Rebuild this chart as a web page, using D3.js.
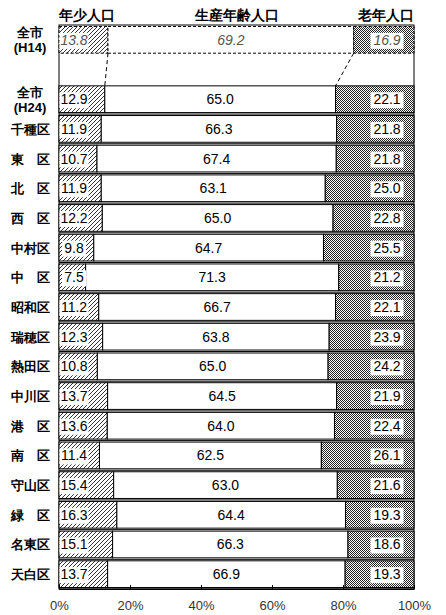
<!DOCTYPE html><html><head><meta charset="utf-8"><script src="https://cdn.jsdelivr.net/npm/d3@7"></script>
<style>body{margin:0;background:#fff}text{font-family:"Liberation Sans",Arial,sans-serif}</style></head><body><svg id="c" width="446" height="615"></svg>
<script>
const categories=["全市\n(H14)","","全市\n(H24)","千種区","東　区","北　区","西　区","中村区","中　区","昭和区","瑞穂区","熱田区","中川区","港　区","南　区","守山区","緑　区","名東区","天白区"];
const young=[13.8,null,12.9,11.9,10.7,11.9,12.2,9.8,7.5,11.2,12.3,10.8,13.7,13.6,11.4,15.4,16.3,15.1,13.7];
const working=[69.2,null,65.0,66.3,67.4,63.1,65.0,64.7,71.3,66.7,63.8,65.0,64.5,64.0,62.5,63.0,64.4,66.3,66.9];
const old=[16.9,null,22.1,21.8,21.8,25.0,22.8,25.5,21.2,22.1,23.9,24.2,21.9,22.4,26.1,21.6,19.3,18.6,19.3];
const headers=["年少人口","生産年齢人口","老年人口"];
const ticks=[0,20,40,60,80,100];
const svg=d3.select("#c");
const defs=svg.append("defs");
const ph=defs.append("pattern").attr("id","hatch").attr("patternUnits","userSpaceOnUse").attr("width",4).attr("height",4);
ph.append("rect").attr("width",4).attr("height",4).attr("fill","#fff");
ph.append("path").attr("d","M-1,5 L5,-1 M3,5 L5,3 M-1,1 L1,-1").attr("stroke","#000").attr("stroke-width",0.8);
const pd=defs.append("pattern").attr("id","dots").attr("patternUnits","userSpaceOnUse").attr("width",2).attr("height",2);
pd.append("rect").attr("width",2).attr("height",2).attr("fill","#fff");
pd.append("rect").attr("width",1).attr("height",1).attr("fill","#222");
pd.append("rect").attr("x",1).attr("y",1).attr("width",1).attr("height",1).attr("fill","#222");
const x=d3.scaleLinear().domain([0,100]).range([59,414]);
const y=d3.scaleBand().domain(d3.range(categories.length)).range([25,589]).paddingInner(0.1).paddingOuter(0.05);
svg.append("rect").attr("x",x(0)).attr("y",25).attr("width",x(100)-x(0)).attr("height",564).attr("fill","none").attr("stroke","#000");
categories.forEach((c,i)=>{
 if(young[i]==null)return;
 const y0=y(i),h=y.bandwidth(),a=young[i],b=a+working[i];
 const ital=i===0;
 const st=ital?"3,2":null;
 svg.append("rect").attr("x",x(0)).attr("y",y0).attr("width",x(a)-x(0)).attr("height",h).attr("fill","url(#hatch)").attr("stroke","#000").attr("stroke-dasharray",st);
 svg.append("rect").attr("x",x(a)).attr("y",y0).attr("width",x(b)-x(a)).attr("height",h).attr("fill","#fff").attr("stroke","#000").attr("stroke-dasharray",st);
 svg.append("rect").attr("x",x(b)).attr("y",y0).attr("width",x(100)-x(b)).attr("height",h).attr("fill","url(#dots)").attr("stroke","#000").attr("stroke-dasharray",st);
 if(i>=2) svg.append("line").attr("x1",x(0)).attr("x2",x(100)).attr("y1",y0+h+1.5).attr("y2",y0+h+1.5).attr("stroke","#000");
 const cy=y0+h/2+5;
 const fs=14;
 const lab=(v,cx,w)=>{
   svg.append("rect").attr("x",cx-w/2).attr("y",cy-12).attr("width",w).attr("height",16).attr("fill","#fff");
   svg.append("text").attr("x",cx).attr("y",cy).attr("text-anchor","middle").attr("font-size",fs).attr("font-style",ital?"italic":null).attr("fill",ital?"#555":"#000").text(v.toFixed(1));
 };
 lab(a,x(0)+15,a<10?24:29);
 svg.append("text").attr("x",(x(a)+x(b))/2).attr("y",cy).attr("text-anchor","middle").attr("font-size",fs).attr("font-style",ital?"italic":null).attr("fill",ital?"#555":"#000").text(working[i].toFixed(1));
 lab(old[i],x(100)-27,33);
 const lines=c.split("\n");
 lines.forEach((t,k)=>svg.append("text").attr("x",30).attr("y",y0+h/2+5+(lines.length>1?(k-0.5)*15:0)).attr("text-anchor","middle").attr("font-size",13).attr("font-weight","bold").attr("font-family","Noto Sans CJK JP").text(t));
});
svg.append("line").attr("x1",x(young[0])).attr("y1",y(0)+y.bandwidth()).attr("x2",x(young[2])).attr("y2",y(2)).attr("stroke","#000").attr("stroke-dasharray","4,3");
svg.append("line").attr("x1",x(young[0]+working[0])).attr("y1",y(0)+y.bandwidth()).attr("x2",x(young[2]+working[2])).attr("y2",y(2)).attr("stroke","#000").attr("stroke-dasharray","4,3");
[[x(0)+28,headers[0]],[x(50),headers[1]],[x(100)-28,headers[2]]].forEach(([hx,t])=>svg.append("text").attr("x",hx).attr("y",20).attr("text-anchor","middle").attr("font-size",14).attr("font-weight","bold").attr("font-family","Noto Sans CJK JP").text(t));
const ax=svg.append("g").attr("transform","translate(0,589)").call(d3.axisBottom(x).tickValues(ticks).tickFormat(d=>d+"%").tickSize(4).tickSizeOuter(0));
ax.selectAll("text").attr("font-size",13).attr("dy","1.1em").attr("fill","#333");
ax.select(".domain").attr("stroke","#000");
ax.selectAll(".tick line").attr("transform","translate(0,-4)");
</script></body></html>
